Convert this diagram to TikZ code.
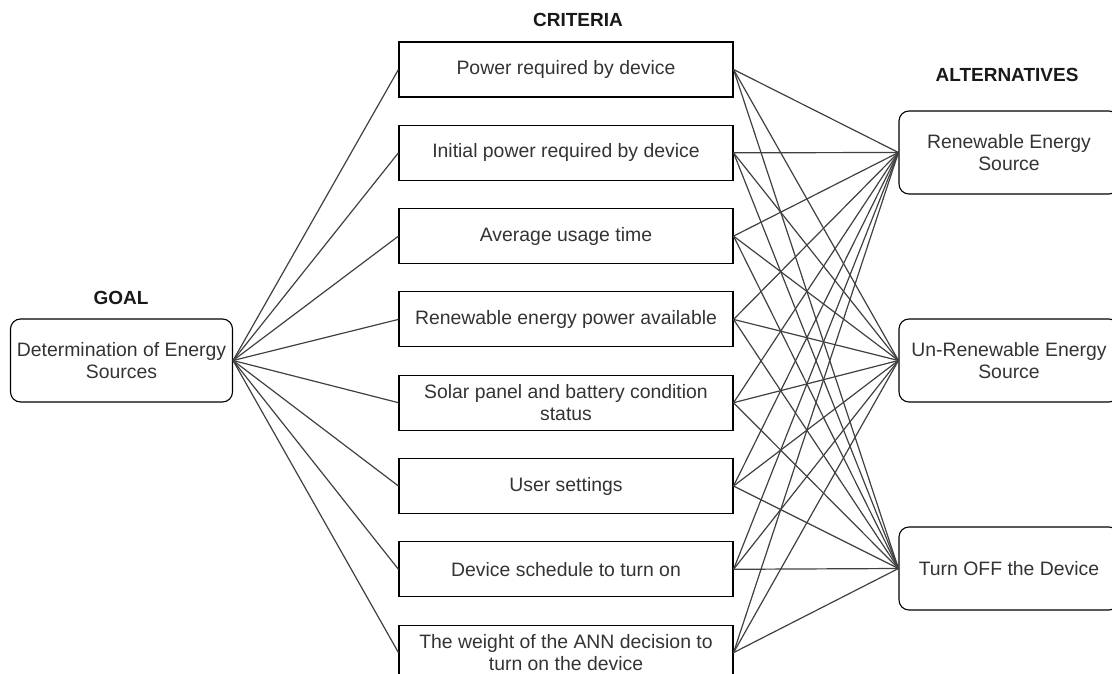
\documentclass[tikz,border=0pt]{standalone}
\usepackage{fontspec}
\setmainfont{Liberation Sans}
\definecolor{textgray}{HTML}{333333}
\definecolor{linkgray}{HTML}{404040}
\begin{document}
\begin{tikzpicture}[x=1pt,y=-1pt,
  txt/.style={text=textgray, font=\fontsize{19.4}{22}\selectfont, align=center},
  crit/.style={txt, draw=black, line width=1.1pt, minimum width=334pt, minimum height=55pt, inner sep=0pt},
  roundbox/.style={txt, draw=black, line width=1.1pt, rounded corners=10pt, minimum width=222pt, minimum height=83pt, inner sep=0pt},
  head/.style={font=\fontsize{19}{22}\selectfont\bfseries, text=black!90},
  link/.style={draw=linkgray, line width=1.2pt}]
\clip (0,0) rectangle (1112,674);

% headings
\node[head] (hgoal) at (121,298) {GOAL};
\node[head] (hcrit) at (578,20) {CRITERIA};
\node[head] (halt) at (1007,75) {ALTERNATIVES};

% goal
\node[roundbox] (goal) at (121.5,360.5) {Determination of Energy\\Sources};

% criteria
\node[crit] (c1) at (566,69.5) {Power required by device};
\node[crit] (c2) at (566,152.8) {Initial power required by device};
\node[crit] (c3) at (566,236.1) {Average usage time};
\node[crit] (c4) at (566,319.4) {Renewable energy power available};
\node[crit] (c5) at (566,402.7) {Solar panel and battery condition\\status};
\node[crit] (c6) at (566,486) {User settings};
\node[crit] (c7) at (566,569.3) {Device schedule to turn on};
\node[crit] (c8) at (566,652.6) {The weight of the ANN decision to\\turn on the device};

% alternatives
\node[roundbox, minimum width=220pt] (a1) at (1009,152.5) {Renewable Energy\\Source};
\node[roundbox, minimum width=220pt] (a2) at (1009,360.5) {Un-Renewable Energy\\Source};
\node[roundbox, minimum width=220pt] (a3) at (1009,568.5) {Turn OFF the Device};

% goal to every criterion, every criterion to every alternative
\foreach \c in {c1,c2,c3,c4,c5,c6,c7,c8} {
  \draw[link] (goal.east) -- (\c.west);
  \foreach \a in {a1,a2,a3} {
    \draw[link] (\c.east) -- (\a.west);
  }
}
\end{tikzpicture}
\end{document}
